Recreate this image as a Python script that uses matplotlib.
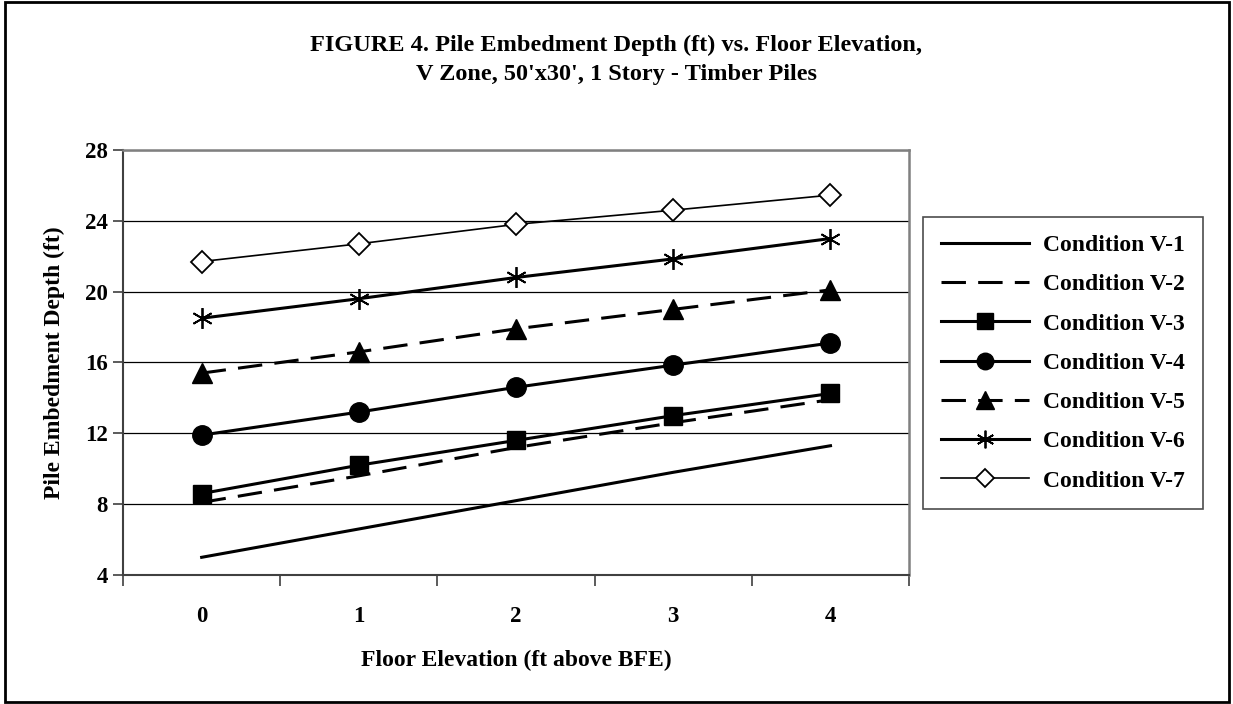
import matplotlib
matplotlib.use("Agg")
import matplotlib.pyplot as plt
from matplotlib.patches import Rectangle

plt.rcParams['font.family'] = ['Liberation Serif', 'DejaVu Serif']
plt.rcParams['font.weight'] = 'bold'

# floor elevation categories (ft above BFE)
elevations = ['0', '1', '2', '3', '4']

# pile embedment depth (ft)
cond_v1 = [5.0, 6.6, 8.2, 9.8, 11.3]
cond_v2 = [8.1, 9.6, 11.2, 12.6, 13.9]
cond_v3 = [8.6, 10.2, 11.6, 13.0, 14.25]
cond_v4 = [11.9, 13.2, 14.6, 15.85, 17.1]
cond_v5 = [15.4, 16.6, 17.9, 19.0, 20.1]
cond_v6 = [18.5, 19.6, 20.8, 21.85, 23.0]
cond_v7 = [21.7, 22.7, 23.8, 24.6, 25.45]

labels = ['Condition V-1', 'Condition V-2', 'Condition V-3', 'Condition V-4',
          'Condition V-5', 'Condition V-6', 'Condition V-7']
y_ticks = [4, 8, 12, 16, 20, 24, 28]

fig = plt.figure(figsize=(12.33, 7.04), dpi=100)
ax = fig.add_axes([0.0998, 0.1832, 0.6375, 0.6038])

x = range(len(elevations))
asterisk = (6, 2, 0)

ax.plot(x, cond_v1, color='black', lw=2.2, label=labels[0])
ax.plot(x, cond_v2, color='black', lw=2.2, dashes=(8, 4), label=labels[1])
ax.plot(x, cond_v3, color='black', lw=2.2, marker='s', ms=13, label=labels[2])
ax.plot(x, cond_v4, color='black', lw=2.2, marker='o', ms=14, label=labels[3])
ax.plot(x, cond_v5, color='black', lw=2.2, dashes=(8, 4), marker='^', ms=15, label=labels[4])
ax.plot(x, cond_v6, color='black', lw=2.2, marker=asterisk, ms=15, mew=1.3, label=labels[5])
ax.plot(x, cond_v7, color='black', lw=1.2, marker='D', ms=11, mfc='white', mew=1.3, label=labels[6])

ax.set_xlim(-0.5, 4.5)
ax.set_ylim(4, 28)
ax.set_yticks(y_ticks)
ax.set_yticklabels([str(v) for v in y_ticks], fontsize=16.5, fontweight='bold')
ax.yaxis.grid(True, color='black', lw=0.9)
ax.set_axisbelow(True)

ax.set_xticks([i - 0.5 for i in range(len(elevations) + 1)])
ax.set_xticklabels([])
ax.set_xticks(list(x), minor=True)
ax.set_xticklabels(elevations, minor=True, fontsize=16.5, fontweight='bold')
ax.tick_params(axis='x', which='major', direction='out', length=8, width=1.2, color='#404040')
ax.tick_params(axis='x', which='minor', length=0, pad=22)
ax.tick_params(axis='y', direction='out', length=7, width=1.2, color='#404040', pad=4)

for side in ['top', 'right']:
    ax.spines[side].set_color('#808080')
    ax.spines[side].set_linewidth(1.8)
for side in ['left', 'bottom']:
    ax.spines[side].set_color('#404040')
    ax.spines[side].set_linewidth(1.5)

ax.set_xlabel('Floor Elevation (ft above BFE)', fontsize=17, fontweight='bold', labelpad=17)
ax.set_ylabel('Pile Embedment Depth (ft)', fontsize=17, fontweight='bold')
ax.yaxis.set_label_coords(-0.074, 0.5)

fig.suptitle("FIGURE 4. Pile Embedment Depth (ft) vs. Floor Elevation,\nV Zone, 50'x30', 1 Story - Timber Piles",
             fontsize=17.5, fontweight='bold', y=0.951, linespacing=1.55)

leg = ax.legend(loc='upper left', bbox_to_anchor=(0.7486, 0.6918), bbox_transform=fig.transFigure,
                borderaxespad=0, fontsize=17, frameon=True, fancybox=False, edgecolor='#202020',
                handlelength=3.75, labelspacing=0.75, markerscale=0.85, borderpad=0.75,
                handletextpad=0.6)
leg.get_frame().set_linewidth(1.2)
for t in leg.get_texts():
    t.set_fontweight('bold')

fig.patches.append(Rectangle((0.004, 0.003), 0.993, 0.994, transform=fig.transFigure,
                             fill=False, edgecolor='black', lw=2))

fig.savefig('out.png', dpi=100)
